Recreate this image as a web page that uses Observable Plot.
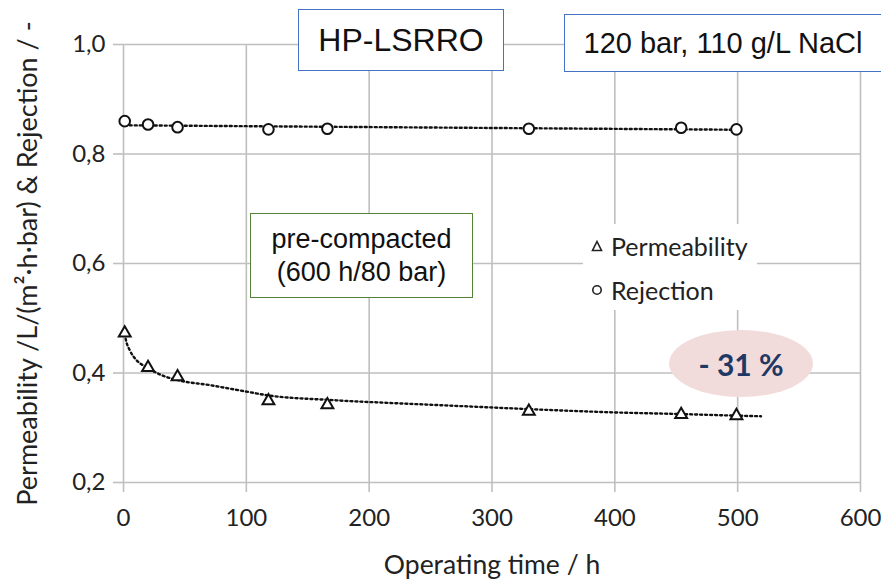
<!DOCTYPE html>
<html><head><meta charset="utf-8">
<script src="https://cdn.jsdelivr.net/npm/d3@7"></script>
<script src="https://cdn.jsdelivr.net/npm/@observablehq/plot@0.6"></script>
<style>
body{margin:0;background:#fff;}
#wrap{position:relative;width:881px;height:580px;overflow:hidden;background:#fff;}
.box{position:absolute;background:#fff;box-sizing:border-box;display:flex;flex-direction:column;align-items:center;justify-content:center;text-align:center;font-family:"Liberation Sans",Arial,sans-serif;color:#111;line-height:1.2;}
.legend{position:absolute;background:#fff;font-family:Lato,sans-serif;font-size:25px;color:#222;}
.legend div{display:flex;align-items:center;height:44px;}
.legend svg{margin-right:8px;}
.ell{position:absolute;border-radius:50%;background:#f2dcdb;display:flex;align-items:center;justify-content:center;font-family:Lato,sans-serif;font-weight:bold;font-size:30px;color:#1f3864;}
</style></head><body><div id="wrap"></div>
<script>
// operating time (h) of the measured points
const time = [1, 20, 44, 118, 166, 330, 454, 499];
const permeability = [0.473, 0.410, 0.393, 0.349, 0.342, 0.330, 0.324, 0.322];
const rejection = [0.860, 0.854, 0.849, 0.845, 0.846, 0.846, 0.848, 0.845];
// dotted trend line of permeability
const permTrendTime = [1, 2, 5, 10, 20, 30, 44, 70, 100, 118, 166, 200, 250, 300, 330, 400, 454, 500, 519];
const permTrendValue = [0.472, 0.460, 0.442, 0.425, 0.409, 0.397, 0.387, 0.378, 0.366, 0.359, 0.351, 0.347, 0.342, 0.337, 0.334, 0.328, 0.325, 0.322, 0.321];
const xTicks = [0, 100, 200, 300, 400, 500, 600];
const yTicks = [0.2, 0.4, 0.6, 0.8, 1.0];
const xLabel = "Operating time / h";
const yLabel = "Permeability /L/(m²·h·bar) & Rejection / -";

const permData = time.map((t, i) => ({t, v: permeability[i]}));
const rejData = time.map((t, i) => ({t, v: rejection[i]}));
const trendData = permTrendTime.map((t, i) => ({t, v: permTrendValue[i]}));

const grid = "#bfbfbf";
const ink = "#111";
const plot = Plot.plot({
  width: 881, height: 580,
  marginLeft: 123, marginRight: 21, marginTop: 44, marginBottom: 98,
  style: {fontFamily: "Lato, sans-serif", background: "white", overflow: "visible", color: "#222"},
  x: {domain: [0, 600]},
  y: {domain: [0.2, 1.0]},
  marks: [
    Plot.ruleX(xTicks, {stroke: grid, strokeWidth: 1.6}),
    Plot.ruleY(yTicks, {stroke: grid, strokeWidth: 1.6}),
    Plot.axisX(xTicks, {tickSize: 10, tickPadding: 16, stroke: grid, strokeWidth: 1.6, fill: "#222", fontSize: 24, label: null, tickFormat: d => String(d)}),
    Plot.axisY(yTicks, {tickSize: 10, tickPadding: 8, stroke: grid, strokeWidth: 1.6, fill: "#222", fontSize: 24, label: null, tickFormat: d => d.toFixed(1).replace(".", ",")}),
    Plot.line(trendData, {x: "t", y: "v", curve: "monotone-x", stroke: ink, strokeWidth: 2.4, strokeDasharray: "2,3"}),
    Plot.linearRegressionY(rejData, {x: "t", y: "v", ci: 0, stroke: ink, strokeWidth: 2.4, strokeDasharray: "2,3"}),
    Plot.dot(permData, {x: "t", y: "v", symbol: "triangle", r: 4.4, stroke: ink, strokeWidth: 2, fill: "white"}),
    Plot.dot(rejData, {x: "t", y: "v", r: 5.3, stroke: ink, strokeWidth: 2, fill: "white"}),
    Plot.text([xLabel], {frameAnchor: "bottom", dy: 83, fontSize: 26.5, fill: "#222", lineAnchor: "middle"}),
    Plot.text([yLabel], {frameAnchor: "left", dx: -95, rotate: -90, fontSize: 27, fill: "#222", lineAnchor: "middle", textAnchor: "middle"})
  ]
});
const wrap = document.getElementById("wrap");
wrap.appendChild(plot);

function addBox(html, left, top, w, h, border, fontSize) {
  const d = document.createElement("div");
  d.className = "box";
  Object.assign(d.style, {left: left + "px", top: top + "px", width: w + "px", height: h + "px", border: "1.6px solid " + border, fontSize: fontSize + "px"});
  d.innerHTML = html;
  wrap.appendChild(d);
}
addBox("HP-LSRRO", 298, 9, 206, 62, "#4472c4", 32);
addBox("120 bar, 110 g/L NaCl", 564, 14, 318, 58, "#4472c4", 29);
addBox("<div>pre-compacted</div><div>(600 h/80 bar)</div>", 250, 213, 223, 85, "#548235", 27);

const lg = document.createElement("div");
lg.className = "legend";
Object.assign(lg.style, {left: "583px", top: "224px", width: "174px", height: "86px", paddingLeft: "8px", boxSizing: "border-box"});
lg.innerHTML = `<div><svg width="12" height="12" viewBox="0 0 12 12"><path d="M6 1.5 L10.5 10.5 L1.5 10.5 Z" fill="none" stroke="#222" stroke-width="1.6"/></svg>Permeability</div>
<div><svg width="12" height="12" viewBox="0 0 12 12"><circle cx="6" cy="6" r="4.2" fill="none" stroke="#222" stroke-width="1.6"/></svg>Rejection</div>`;
wrap.appendChild(lg);

const el = document.createElement("div");
el.className = "ell";
Object.assign(el.style, {left: "669px", top: "330px", width: "144px", height: "67px"});
el.textContent = "- 31 %";
wrap.appendChild(el);
</script></body></html>
